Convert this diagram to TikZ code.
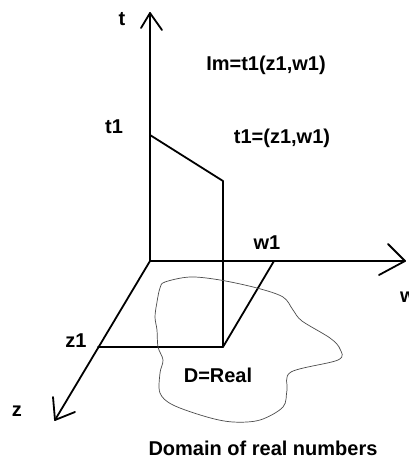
\documentclass[tikz,border=0pt]{standalone}
\usepackage{fontspec}
\setmainfont{Liberation Sans}
\begin{document}
\begin{tikzpicture}[x=1pt,y=-1pt,
  axis/.style={line width=1.8pt,line cap=round,line join=round},
  lbl/.style={font=\fontsize{20}{24}\selectfont\bfseries,inner sep=0pt},
  blob/.style={draw=black!70,line width=0.7pt}]
\useasboundingbox[fill=white] (0,0) rectangle (409,459);
% coordinates
\coordinate (O) at (150,261);
\coordinate (T) at (150,13);
\coordinate (W) at (405,261);
\coordinate (Z) at (55,420);
\coordinate (T1) at (150,135);
\coordinate (P) at (223,181);
\coordinate (Q) at (223,347);
\coordinate (Z1) at (98,347);
\coordinate (W1) at (274,261);
\coordinate (ta) at (141,28);
\coordinate (tb) at (162,30);
\coordinate (wa) at (388,244);
\coordinate (wb) at (379,275);
\coordinate (za) at (53,397);
\coordinate (zb) at (75,412);
% axes
\draw[axis] (O) -- (T);
\draw[axis] (O) -- (W);
\draw[axis] (O) -- (Z);
\draw[axis] (ta) -- (T) -- (tb);
\draw[axis] (wa) -- (W) -- (wb);
\draw[axis] (za) -- (Z) -- (zb);
% projection lines
\draw[axis] (T1) -- (P) -- (Q) -- (Z1);
\draw[axis] (Q) -- (W1);
% domain blob
\draw[blob] plot[smooth cycle,tension=0.55] coordinates {
 (165,282) (190,277) (220,280) (257,288) (283,297) (293,310) (302,321)
 (330,338) (340,349) (338,360) (291,372) (287,390) (283,407) (260,420)
 (233,422) (207,417) (173,405) (160,393) (160,373) (163,360) (158,347)
 (157,330) (155,317) (157,302) (160,288)};
% labels
\node[lbl] (lt) at (122,19) {t};
\node[lbl] (lt1) at (114,127) {t1};
\node[lbl] (lim) at (266,65) {Im=t1(z1,w1)};
\node[lbl] (lt1eq) at (282,138) {t1=(z1,w1)};
\node[lbl] (lw1) at (267,243) {w1};
\node[lbl,anchor=west] (lw) at (400,297) {w};
\node[lbl] (lz1) at (76,341) {z1};
\node[lbl] (lz) at (17,411) {z};
\node[lbl] (ld) at (218,375) {D=Real};
\node[lbl] (ldom) at (263,448) {Domain of real numbers};
\end{tikzpicture}
\end{document}
